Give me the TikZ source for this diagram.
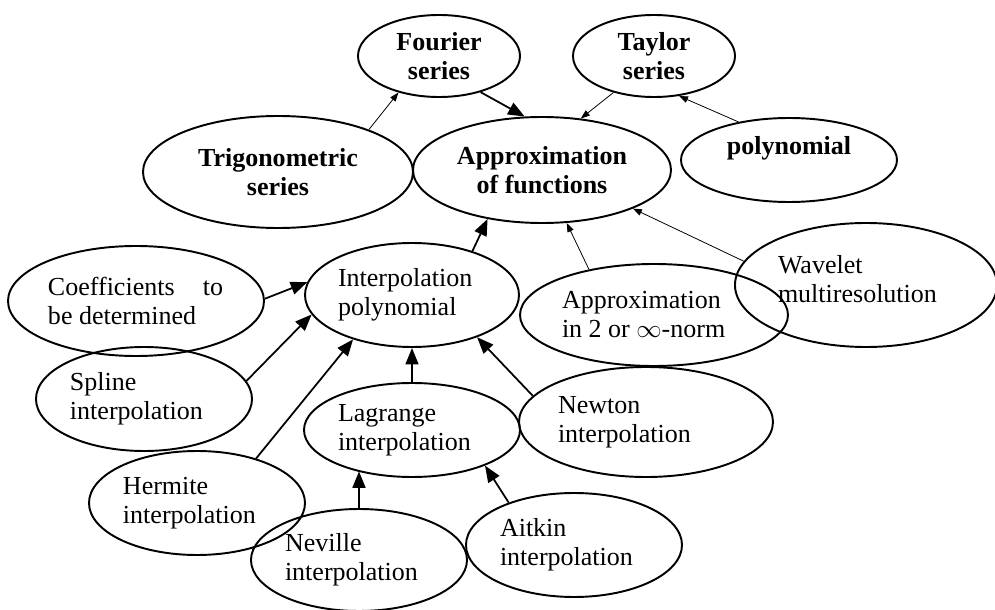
\documentclass[tikz,border=0pt]{standalone}
\usepackage{fontspec}
\setmainfont{Liberation Serif}
\usepackage{tikz}
\usetikzlibrary{shapes.geometric, arrows.meta}
\tikzset{
  oval/.style={draw, ellipse, line width=1.1pt, inner sep=0pt, align=left, text width=29.6mm,
    font=\fontsize{14.8}{16.5}\selectfont, execute at begin node={\spaceskip=0pt\xspaceskip=0pt}},
  boldoval/.style={oval, align=center, text width=, font=\fontsize{14.8}{16.5}\selectfont\bfseries},
  strong/.style={line width=1pt, -{Triangle[length=3.3mm, width=2.6mm]}},
  weak/.style={line width=0.45pt, -{Triangle[length=1.8mm, width=1.3mm]}}
}

\begin{document}
\begin{tikzpicture}[x=0.2mm, y=-0.2mm]
				\useasboundingbox (0,0) rectangle (995,610);
				\node [boldoval, minimum width=32.4mm, minimum height=16.4mm] (fourier) at (439,56) {Fourier\\series};
				\node [boldoval, minimum width=32.4mm, minimum height=16.4mm] (taylor) at (654,56) {Taylor\\series};
				\node [boldoval, minimum width=54mm, minimum height=22.4mm] (trig) at (278,172) {Trigonometric\\series};
				\node [boldoval, minimum width=51.6mm, minimum height=21.2mm] (approx) at (542,170) {Approximation\\of functions};
				\node [boldoval, minimum width=43.2mm, minimum height=16.8mm] (poly) at (789,160) {polynomial\\~};
				\node [oval, text width=35.2mm, minimum width=51.2mm, minimum height=22mm] (coeff) at (136,301) {\makebox[35mm][l]{Coefficients\hfill to}\\be determined};
				\node [oval, minimum width=42.8mm, minimum height=20.8mm] (interp) at (412,295) {Interpolation\\polynomial};
				\node [oval, text width=36.8mm, minimum width=53.6mm, minimum height=20.4mm] (norm) at (654,315) {Approximation\\in 2 or $\infty$-norm};
				\node [oval, text width=35.2mm, minimum width=52.4mm, minimum height=24.8mm] (wavelet) at (866,285) {Wavelet\\multiresolution\\[-10pt]~};
				\node [oval, minimum width=43.2mm, minimum height=20.8mm] (spline) at (144,399) {Spline\\interpolation};
				\node [oval, text width=35.2mm, minimum width=50.8mm, minimum height=22mm] (newton) at (646,422) {Newton\\interpolation};
				\node [oval, minimum width=43.2mm, minimum height=18.8mm] (lagrange) at (412,430) {Lagrange\\interpolation};
				\node [oval, minimum width=43.2mm, minimum height=20.8mm] (hermite) at (197,503) {Hermite\\interpolation};
				\node [oval, minimum width=43.2mm, minimum height=20.4mm] (neville) at (359,560) {Neville\\interpolation};
				\node [oval, minimum width=43.2mm, minimum height=20.8mm] (aitkin) at (574,545) {Aitkin\\interpolation};
				\draw [weak] (trig.25) -- (fourier.222);
				\draw [strong] (fourier.319) -- (approx.108);
				\draw [weak] (taylor.222) -- (approx.53);
				\draw [weak] (poly.143) -- (taylor.302);
				\draw [strong] (coeff.1) -- (interp.173);
				\draw [strong] (spline.10) -- (interp.191);
				\draw [strong] (hermite.37) -- (interp.217);
				\draw [strong] (lagrange.north) -- (lagrange.north |- interp.south);
				\draw [strong] (newton.167) -- (interp.327);
				\draw [strong] (interp.36) -- (approx.222);
				\draw [weak] (norm.145) -- (approx.295);
				\draw [weak] (wavelet.169) -- (approx.337);
				\draw [strong] (neville.north) -- (neville.north |- lagrange.217);
				\draw [strong] (aitkin.147) -- (lagrange.334);
			\end{tikzpicture}
\end{document}
